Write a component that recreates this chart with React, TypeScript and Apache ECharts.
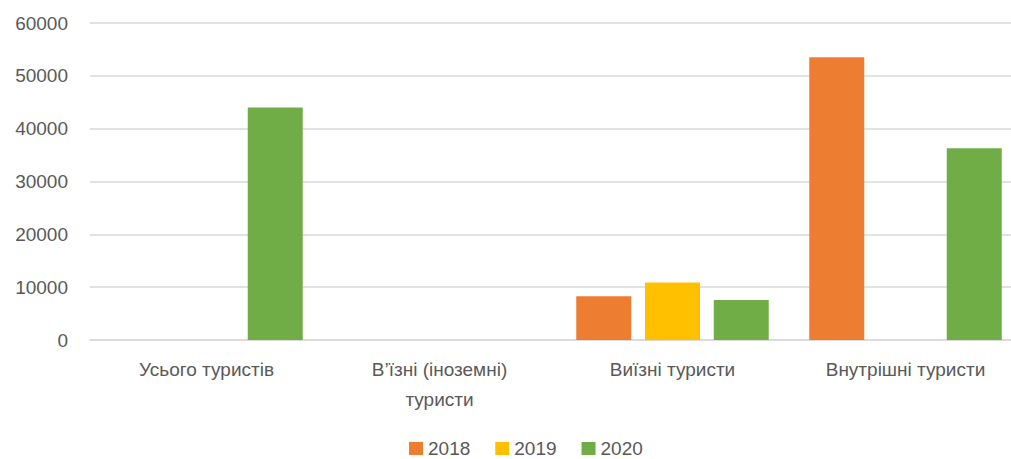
import React, { useEffect, useRef } from "react";
import * as echarts from "echarts";

const categories = [
  "Усього туристів",
  "В’їзні (іноземні) туристи",
  "Виїзні туристи",
  "Внутрішні туристи",
];
const seriesNames = ["2018", "2019", "2020"];
const values2018 = [0, 0, 8300, 53500];
const values2019 = [0, 0, 10900, 0];
const values2020 = [44000, 0, 7550, 36300];
const colors = ["#ED7D31", "#FFC000", "#70AD47"];
const yTicks = { min: 0, max: 60000, interval: 10000 };

export default function App() {
  const ref = useRef<HTMLDivElement>(null);
  useEffect(() => {
    document.body.style.margin = "0";
    const chart = echarts.init(ref.current!, null, { renderer: "svg" });
    const font = "'Liberation Sans', Arial, sans-serif";
    const data = [values2018, values2019, values2020];
    chart.setOption({
      animation: false,
      textStyle: { fontFamily: font },
      grid: { left: 90, right: 0, top: 23, bottom: 119 },
      legend: {
        top: 439,
        left: 409,
        padding: 0,
        itemWidth: 14,
        itemHeight: 13,
        itemGap: 25,
        icon: "rect",
        textStyle: {
          fontSize: 19,
          lineHeight: 19,
          color: "#595959",
          fontFamily: font,
        },
        data: seriesNames,
      },
      xAxis: {
        type: "category",
        data: categories,
        axisLine: { show: true, lineStyle: { color: "#D9D9D9", width: 1.5 } },
        axisTick: { show: false },
        axisLabel: {
          fontSize: 19,
          color: "#595959",
          margin: 14,
          lineHeight: 30,
          interval: 0,
          formatter: (v: string) =>
            v.indexOf("(") >= 0 ? v.replace(") ", ")\n") : v,
        },
      },
      yAxis: {
        type: "value",
        min: yTicks.min,
        max: yTicks.max,
        interval: yTicks.interval,
        axisLine: { show: false },
        axisTick: { show: false },
        splitLine: { lineStyle: { color: "#D9D9D9", width: 1.5 } },
        axisLabel: {
          fontSize: 19,
          color: "#595959",
          margin: 22,
          formatter: (v: number) => String(v),
        },
      },
      series: seriesNames.map((n, i) => ({
        name: n,
        type: "bar",
        data: data[i],
        barWidth: 55,
        barGap: "25%",
        itemStyle: { color: colors[i] },
      })),
    });
    return () => chart.dispose();
  }, []);
  return (
    <div style={{ width: 1011, height: 459, overflow: "hidden" }}>
      <div ref={ref} style={{ width: 1022, height: 459 }} />
    </div>
  );
}
